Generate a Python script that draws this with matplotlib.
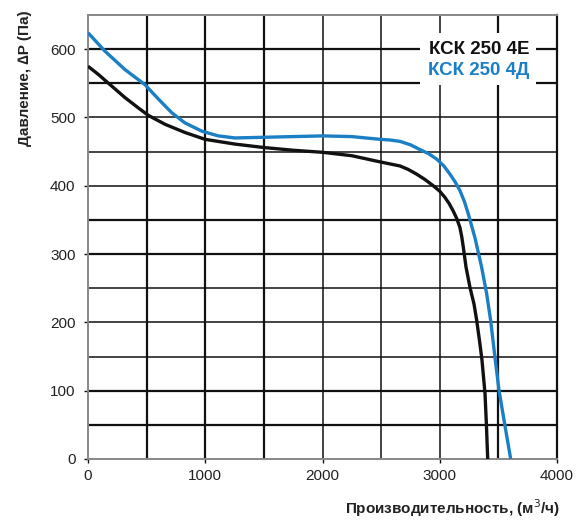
import matplotlib
matplotlib.use('Agg')
import matplotlib.pyplot as plt
from matplotlib.patches import Rectangle

plt.rcParams['font.family'] = ['Liberation Sans', 'DejaVu Sans']

# Fan curves
black_x = [0, 88, 202, 316, 429, 515, 657, 827, 998, 1254, 1500, 1750, 2000, 2250,
           2490, 2575, 2661, 2730, 2803, 2875, 2945, 3000, 3044, 3080, 3115, 3145, 3172,
           3188, 3201, 3224, 3258, 3292, 3315, 3340, 3360, 3386, 3398, 3409]
black_y = [575, 563, 546, 529, 514, 503, 490, 478, 468, 461, 456, 452, 449, 444,
           435, 432, 429, 424, 417, 409, 400, 392, 383, 374, 363, 352, 339,
           325, 310, 281, 251, 227, 203, 172, 145, 96, 50, 0]

blue_x = [0, 145, 316, 486, 600, 714, 827, 970, 1111, 1254, 1500, 1750, 2000, 2250,
          2490, 2575, 2661, 2750, 2831, 2905, 2974, 3035, 3087, 3130, 3172, 3210, 3243,
          3300, 3357, 3400, 3434, 3470, 3505, 3555, 3605]
blue_y = [624, 597, 570, 548, 527, 507, 492, 480, 473, 470, 471, 472, 473, 472,
          468, 467, 465, 460, 453, 447, 439, 429, 417, 406, 393, 377, 359,
          324, 281, 242, 203, 150, 101, 50, 0]

x_ticks = [0, 1000, 2000, 3000, 4000]
y_ticks = [0, 100, 200, 300, 400, 500, 600]
names = ['КСК 250 4Е', 'КСК 250 4Д']
BLUE = '#1a7fc4'

fig = plt.figure(figsize=(5.88, 5.24), dpi=100)
ax = fig.add_axes([88 / 588, 65 / 524, 469 / 588, 444 / 524])
ax.set_xlim(0, 4000)
ax.set_ylim(0, 650)

# grid: some lines drawn heavier in the original
thick_v = [500, 1000, 1500, 3500]
thin_v = [2000, 2500, 3000]
thick_h = [50, 100, 300, 350, 550, 600]
thin_h = [150, 200, 250, 400, 450, 500]
for v in thick_v:
    ax.axvline(v, color='#111111', lw=1.6, zorder=1)
for v in thin_v:
    ax.axvline(v, color='#111111', lw=1.1, zorder=1)
for h in thick_h:
    ax.axhline(h, color='#111111', lw=1.6, zorder=1)
for h in thin_h:
    ax.axhline(h, color='#111111', lw=1.1, zorder=1)

ax.plot(black_x, black_y, color='#111111', lw=2.4, solid_joinstyle='round',
        solid_capstyle='butt', zorder=3)
ax.plot(blue_x, blue_y, color=BLUE, lw=2.4, solid_joinstyle='round',
        solid_capstyle='butt', zorder=3)

ax.set_xticks(x_ticks)
ax.set_yticks(y_ticks)
ax.tick_params(axis='both', direction='out', length=3, width=1, colors='#111111',
               labelsize=11, labelcolor='#222222')
ax.tick_params(axis='x', pad=4)
ax.tick_params(axis='y', pad=6)

for side in ['left', 'bottom', 'top']:
    ax.spines[side].set_color('#888888')
    ax.spines[side].set_linewidth(1.4)
ax.spines['right'].set_color('#111111')
ax.spines['right'].set_linewidth(1.6)

# legend: white patch with two coloured text lines
ax.add_patch(Rectangle((2830, 547), 990, 77, facecolor='white', edgecolor='none', zorder=4))
ax.text(3335, 599, names[0], color='#111111', fontsize=13.5, fontweight='bold',
        ha='center', va='center', zorder=5)
ax.text(3335, 569, names[1], color=BLUE, fontsize=13.5, fontweight='bold',
        ha='center', va='center', zorder=5)

fig.text(25 / 588, 1 - 78 / 524, 'Давление, ∆P (Па)', rotation=90, ha='center',
         va='center', fontsize=11, fontweight='bold', color='#222222')
fig.text(560 / 588, 1 - 508 / 524, 'Производительность, (м$^3$/ч)', ha='right',
         va='center', fontsize=11, fontweight='bold', color='#222222')

fig.savefig('out.png', dpi=100)
